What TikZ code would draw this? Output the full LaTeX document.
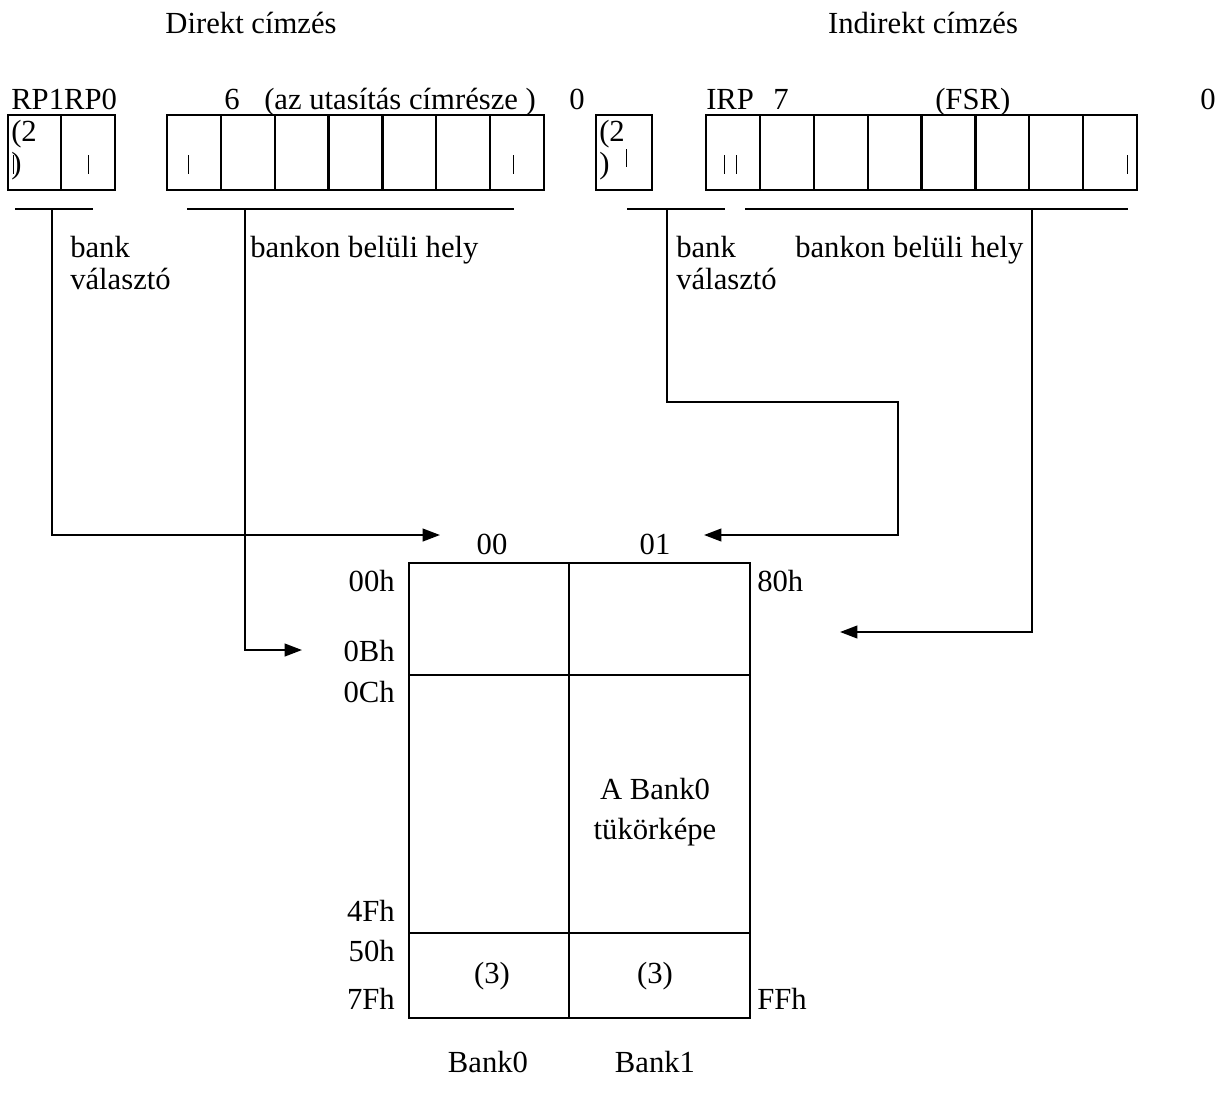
\documentclass[tikz,border=0pt]{standalone}
\usepackage{fontspec}
\setmainfont{Liberation Serif}
\usetikzlibrary{arrows.meta}
\begin{document}
\begin{tikzpicture}[x=0.75pt,y=-0.75pt,
  txt/.style={inner sep=0pt,font=\fontsize{23}{24.5}\selectfont},
  regbox/.style={line width=1.7pt},
  tick/.style={line width=0.7pt},
  conn/.style={line width=1.5pt},
  arr/.style={conn,-{Triangle[length=13pt,width=9.5pt]}}]
\useasboundingbox (0,0) rectangle (1224,1093);
% titles
\node[txt,anchor=base] (tdir) at (251,33) {Direkt címzés};
\node[txt,anchor=base] (tind) at (923,33) {Indirekt címzés};
% top labels
\node[txt,anchor=base west] (rp) at (11,109) {RP1RP0};
\node[txt,anchor=base] (six) at (232,109) {6};
\node[txt,anchor=base west] (azu) at (264,109) {(az utasítás címrésze )};
\node[txt,anchor=base] (zeroa) at (577,109) {0};
\node[txt,anchor=base west] (irp) at (706,109) {IRP};
\node[txt,anchor=base] (seven) at (781,109) {7};
\node[txt,anchor=base west] (fsr) at (935,109) {(FSR)};
\node[txt,anchor=base] (zerob) at (1208,109) {0};
% register boxes
\draw[regbox] (8,115) rectangle (115,190);
\draw[regbox] (61,115) -- (61,190);
\draw[regbox] (167,115) rectangle (544,190);
\foreach \i in {1,...,6} \draw[regbox] ({167+\i*53.857},115) -- ({167+\i*53.857},190);
\draw[regbox] (596,115) rectangle (652,190);
\draw[regbox] (706,115) rectangle (1137,190);
\foreach \i in {1,...,7} \draw[regbox] ({706+\i*53.875},115) -- ({706+\i*53.875},190);
% (2) labels
\node[txt,anchor=base west] (twoa) at (11,141) {(2};
\node[txt,anchor=base west] (pa) at (11,173) {)};
\node[txt,anchor=base west] (twoc) at (599,141) {(2};
\node[txt,anchor=base west] (pc) at (599,173) {)};
% ticks
\foreach \x in {13,88,188,513,724,736,1127} \draw[tick] (\x,155) -- (\x,174);
\draw[tick] (626,149) -- (626,167);
% brackets
\draw[conn] (15,209) -- (93,209);
\draw[conn] (187,209) -- (514,209);
\draw[conn] (627,209) -- (725,209);
\draw[conn] (745,209) -- (1128,209);
\coordinate (ba) at (52,209);
\coordinate (bb) at (245,209);
\coordinate (bc) at (667,209);
\coordinate (bd) at (1032,209);
% bracket labels
\node[txt,anchor=base west,align=left,font=\fontsize{23}{24}\selectfont] (bsa) at (70,289) {bank\\választó};
\node[txt,anchor=base west] (bba) at (250,257) {bankon belüli hely};
\node[txt,anchor=base west,align=left,font=\fontsize{23}{24}\selectfont] (bsb) at (676,289) {bank\\választó};
\node[txt,anchor=base west] (bbb) at (795,257) {bankon belüli hely};
% memory table
\draw[regbox] (409,563) rectangle (750,1018);
\draw[regbox] (569,563) -- (569,1018);
\draw[regbox] (409,675) -- (750,675);
\draw[regbox] (409,933) -- (750,933);
\node[txt,anchor=base] (c00) at (492,554) {00};
\node[txt,anchor=base] (c01) at (655,554) {01};
\coordinate (t00) at (440,535);
\coordinate (t01) at (704,535);
\coordinate (t0b) at (302,650);
\coordinate (t80) at (840,632);
\node[txt,anchor=base east] (h00) at (395,591) {00h};
\node[txt,anchor=base east] (h0b) at (395,661) {0Bh};
\node[txt,anchor=base east] (h0c) at (395,702) {0Ch};
\node[txt,anchor=base east] (h4f) at (395,921) {4Fh};
\node[txt,anchor=base east] (h50) at (395,961) {50h};
\node[txt,anchor=base east] (h7f) at (395,1009) {7Fh};
\node[txt,anchor=base west] (h80) at (757,591) {80h};
\node[txt,anchor=base west] (hff) at (757,1009) {FFh};
\node[txt,anchor=base,align=center,font=\fontsize{23}{30}\selectfont] (mir) at (655,839) {A Bank0\\tükörképe};
\node[txt,anchor=base] (tha) at (492,983) {(3)};
\node[txt,anchor=base] (thb) at (655,983) {(3)};
\node[txt,anchor=base] (bk0) at (488,1072) {Bank0};
\node[txt,anchor=base] (bk1) at (655,1072) {Bank1};
% connectors
\draw[arr] (ba) |- (t00);
\draw[arr] (bb) |- (t0b);
\draw[arr] (bc) -- (667,402) -| (898,535) -- (t01);
\draw[arr] (bd) |- (t80);
\end{tikzpicture}
\end{document}
